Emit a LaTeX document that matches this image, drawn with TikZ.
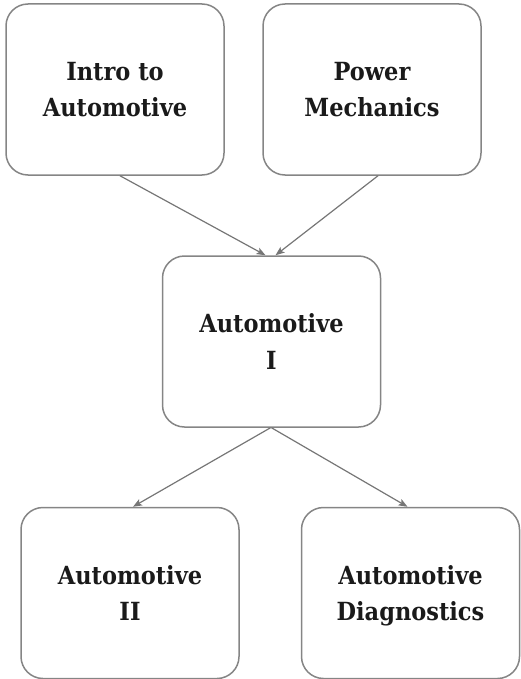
\documentclass[tikz,border=0pt]{standalone}
\usepackage{fontspec}
\setmainfont{DejaVu Serif Condensed}[BoldFont={DejaVu Serif Condensed Bold}]
\usetikzlibrary{arrows.meta}
\definecolor{boxline}{HTML}{858585}
\definecolor{arrowline}{HTML}{767676}
\definecolor{labeltext}{HTML}{1A1A1A}
\begin{document}
\begin{tikzpicture}[x=1pt,y=-1pt,
  course/.style={draw=boxline, line width=1.5pt, rounded corners=22pt,
    minimum width=218pt, minimum height=171pt, inner sep=0pt, align=center,
    text depth=0pt, text=labeltext,
    font=\bfseries\fontsize{25}{36}\selectfont},
  prereq/.style={draw=arrowline, line width=1.2pt,
    -{Stealth[length=9pt,width=7pt,inset=2pt]}}]
\useasboundingbox (0,0) rectangle (520,679);
% course boxes
\node[course] (intro) at (115,89.5) {Intro to\\Automotive};
\node[course] (power) at (372,89.5) {Power\\Mechanics};
\node[course] (auto1) at (271.5,341.5) {Automotive\\I};
\node[course] (auto2) at (130,593) {Automotive\\II};
\node[course] (diag) at (410.5,593) {Automotive\\Diagnostics};
% prerequisite arrows
\draw[prereq] ([xshift=5pt]intro.south) -- ([xshift=-6pt]auto1.north);
\draw[prereq] ([xshift=6pt]power.south) -- ([xshift=4pt]auto1.north);
\draw[prereq] ([xshift=-1pt]auto1.south) -- ([xshift=3pt]auto2.north);
\draw[prereq] (auto1.south) -- ([xshift=-3pt]diag.north);
\end{tikzpicture}
\end{document}
